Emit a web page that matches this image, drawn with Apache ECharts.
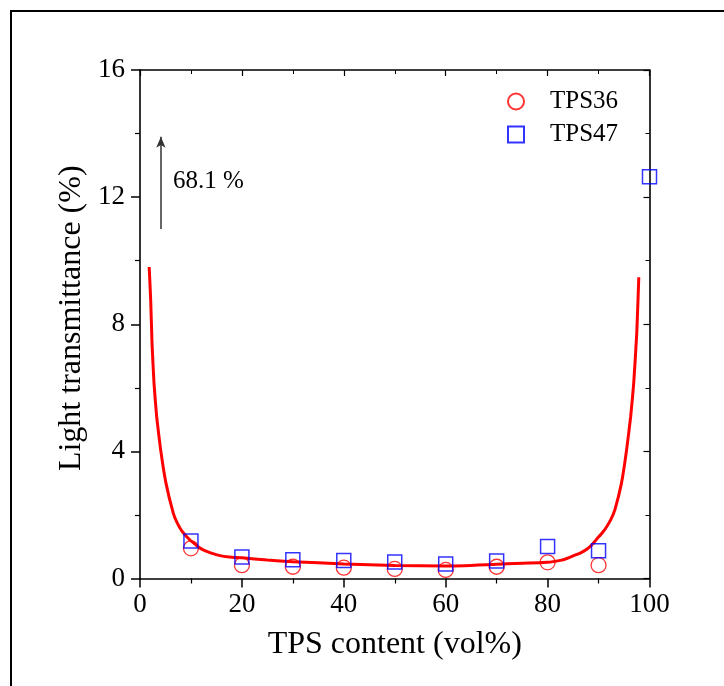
<!DOCTYPE html>
<html>
<head>
<meta charset="utf-8">
<script src="https://cdn.jsdelivr.net/npm/echarts@6/dist/echarts.min.js"></script>
<style>
html,body{margin:0;padding:0;background:#fff;}
#c{width:724px;height:686px;}
</style>
</head>
<body>
<div id="c"></div>
<script>
// ---- data ----
var contentX = [10, 20, 30, 40, 50, 60, 70, 80, 90];
var tps36 = [0.95, 0.42, 0.37, 0.34, 0.30, 0.27, 0.37, 0.51, 0.42];
var tps47X = [10, 20, 30, 40, 50, 60, 70, 80, 90, 100];
var tps47 = [1.18, 0.68, 0.59, 0.57, 0.52, 0.46, 0.55, 1.01, 0.87, 12.64];
var fitX = [1.8, 2.1, 2.36, 2.75, 3.27, 4.06, 5.1, 6.54, 7.3, 8.2, 9.8, 10.5, 11.4, 12.4, 14, 15.7, 17.5, 20, 25, 30, 40, 50, 60, 70, 80, 82.5, 83.8, 85, 86.4, 87.7, 88.7, 89.7, 90.7, 91.6, 92.4, 93.2, 94.5, 95.5, 96.3, 96.9, 97.5, 97.9];
var fitY = [9.8, 8.76, 7.4, 6.14, 5.09, 4.04, 3.0, 2.05, 1.75, 1.5, 1.21, 1.12, 1.0, 0.9, 0.8, 0.72, 0.68, 0.65, 0.58, 0.53, 0.46, 0.41, 0.39, 0.45, 0.51, 0.57, 0.63, 0.71, 0.8, 0.92, 1.06, 1.25, 1.43, 1.63, 1.85, 2.16, 3.0, 4.04, 5.09, 6.14, 7.72, 9.48];
var arrowX = [4.1, 4.1];
var arrowY = [11.0, 13.9];
var annotationText = '68.1 %';
var annotationPos = [6.4, 12.5];
var xTicks = [0, 20, 40, 60, 80, 100];
var yTicks = [0, 4, 8, 12, 16];

var FONT = '"Liberation Serif", "Times New Roman", serif';

function pairs(xs, ys) { return xs.map(function (x, i) { return [x, ys[i]]; }); }

var chart = echarts.init(document.getElementById('c'), null, {renderer: 'canvas'});

var axisLineStyle = {color: '#000', width: 1.6};

var option = {
  animation: false,
  backgroundColor: '#fff',
  graphic: [{
    type: 'rect', shape: {x: 11, y: 11, width: 900, height: 900},
    style: {fill: 'none', stroke: '#000', lineWidth: 2}, silent: true, z: -1
  }],
  grid: {left: 140, right: 74.5, top: 70, bottom: 107.5, containLabel: false},
  legend: {
    orient: 'vertical', left: 502, top: 84,
    itemWidth: 16, itemHeight: 16, itemGap: 8,
    textStyle: {fontFamily: FONT, fontSize: 25, color: '#000', lineHeight: 24, padding: [0, 0, 0, 21]},
    data: ['TPS36', 'TPS47']
  },
  xAxis: [{
    type: 'value', min: xTicks[0], max: xTicks[xTicks.length - 1], interval: 20,
    name: 'TPS content (vol%)', nameLocation: 'middle', nameGap: 50,
    nameTextStyle: {fontFamily: FONT, fontSize: 32, color: '#000'},
    axisLine: {show: true, onZero: false, lineStyle: axisLineStyle},
    axisTick: {show: true, inside: false, length: 9, lineStyle: {color: '#000', width: 1.5}},
    minorTick: {show: true, splitNumber: 2, length: 5, lineStyle: {color: '#000', width: 1.2}},
    axisLabel: {fontFamily: FONT, fontSize: 27, color: '#000', margin: 13},
    splitLine: {show: false}
  }, {
    type: 'value', position: 'top', min: 0, max: 100, interval: 20,
    axisLine: {show: true, onZero: false, lineStyle: axisLineStyle},
    axisTick: {show: true, inside: true, length: 6, lineStyle: {color: '#000', width: 1.2}},
    minorTick: {show: true, splitNumber: 2, length: 4, lineStyle: {color: '#000', width: 1}},
    axisLabel: {show: false}, splitLine: {show: false}
  }],
  yAxis: [{
    type: 'value', min: yTicks[0], max: yTicks[yTicks.length - 1], interval: 4,
    name: 'Light transmittance (%)', nameLocation: 'middle', nameGap: 50, nameRotate: 90,
    nameTextStyle: {fontFamily: FONT, fontSize: 32, color: '#000', padding: [0, 0, 0, 12]},
    axisLine: {show: true, onZero: false, lineStyle: axisLineStyle},
    axisTick: {show: true, inside: false, length: 9, lineStyle: {color: '#000', width: 1.5}},
    minorTick: {show: true, splitNumber: 2, length: 5, lineStyle: {color: '#000', width: 1.2}},
    axisLabel: {fontFamily: FONT, fontSize: 27, color: '#000', margin: 15},
    splitLine: {show: false}
  }, {
    type: 'value', position: 'right', min: 0, max: 16, interval: 4,
    axisLine: {show: true, onZero: false, lineStyle: axisLineStyle},
    axisTick: {show: true, inside: true, length: 6, lineStyle: {color: '#000', width: 1.2}},
    minorTick: {show: true, splitNumber: 2, length: 4, lineStyle: {color: '#000', width: 1}},
    axisLabel: {show: false}, splitLine: {show: false}
  }],
  series: [{
    name: 'fit', type: 'line', data: pairs(fitX, fitY),
    smooth: 0.15, showSymbol: false, symbol: 'none',
    lineStyle: {color: '#ff0000', width: 3}, z: 3,
    markLine: {
      silent: true, symbol: ['none', 'arrow'], symbolSize: [7, 11],
      lineStyle: {color: '#333', width: 1.5, type: 'solid'},
      label: {show: false},
      data: [[{coord: [arrowX[0], arrowY[0]]}, {coord: [arrowX[1], arrowY[1]]}]]
    },
    markPoint: {
      silent: true, symbol: 'circle', symbolSize: 1, itemStyle: {color: 'rgba(0,0,0,0)'},
      label: {show: true, position: 'right', distance: 0, formatter: annotationText,
        fontFamily: FONT, fontSize: 25, color: '#000'},
      data: [{coord: annotationPos}]
    }
  }, {
    name: 'TPS36', type: 'scatter', data: pairs(contentX, tps36),
    symbol: 'circle', symbolSize: 15,
    itemStyle: {color: 'rgba(255,255,255,0)', borderColor: '#ff0000', borderWidth: 1.3},
    z: 4
  }, {
    name: 'TPS47', type: 'scatter', data: pairs(tps47X, tps47),
    symbol: 'rect', symbolSize: 14,
    itemStyle: {color: 'rgba(255,255,255,0)', borderColor: '#0000ff', borderWidth: 1.5},
    z: 5
  }]
};
chart.setOption(option);
</script>
</body>
</html>
